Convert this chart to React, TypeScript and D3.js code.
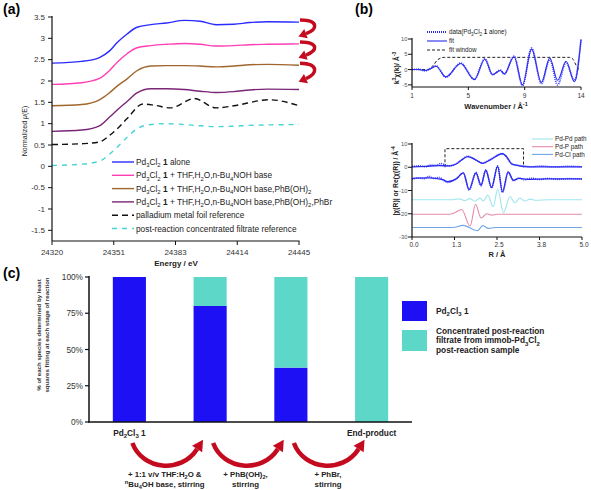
import React from "react";
import * as d3 from "d3";

const FONT = "Arial, 'Liberation Sans', Helvetica, sans-serif";

// ---------------- Panel (a) data ----------------
const A_X_TICKS = [24320, 24351.25, 24382.5, 24413.75, 24445];
const A_X_TICK_LABELS = ["24320", "24351", "24383", "24414", "24445"];
const A_Y_TICKS = [3.5, 3, 2.5, 2, 1.5, 1, 0.5, 0, -0.5, -1, -1.5];
const A_Y_TICK_LABELS = ["3.5", "3", "2.5", "2", "1.5", "1", "0.5", "0", "-0.5", "-1", "-1.5"];

const E_GRID = [24320, 24335, 24344, 24349, 24353, 24358, 24363, 24370, 24378, 24387, 24395, 24403, 24412, 24420, 24429, 24445];
const MU_ALONE = [2.42, 2.46, 2.55, 2.70, 2.90, 3.10, 3.26, 3.32, 3.36, 3.42, 3.40, 3.32, 3.33, 3.37, 3.39, 3.38];
const MU_BASE = [1.92, 1.96, 2.06, 2.24, 2.44, 2.64, 2.78, 2.83, 2.86, 2.88, 2.86, 2.82, 2.83, 2.85, 2.86, 2.87];
const MU_BORONIC = [1.42, 1.45, 1.56, 1.72, 1.88, 2.05, 2.24, 2.35, 2.36, 2.36, 2.35, 2.33, 2.35, 2.38, 2.39, 2.37];
const MU_PHBR = [0.82, 0.85, 0.95, 1.15, 1.32, 1.52, 1.72, 1.82, 1.82, 1.80, 1.76, 1.73, 1.75, 1.79, 1.81, 1.80];
const E_FOIL = [24320, 24335, 24344, 24349, 24353, 24358, 24366, 24372, 24380, 24392, 24403, 24412, 24430, 24445];
const MU_FOIL = [0.51, 0.53, 0.57, 0.72, 0.88, 1.12, 1.46, 1.43, 1.37, 1.59, 1.37, 1.42, 1.56, 1.42];
const MU_FILTRATE = [0.02, 0.05, 0.12, 0.28, 0.45, 0.68, 0.88, 0.98, 1.0, 0.98, 0.95, 0.93, 0.94, 0.96, 0.97, 0.98];

const A_LABELS = [
  "Pd_{3}Cl_{2} *{1} alone",
  "Pd_{3}Cl_{2} *{1} + THF,H_{2}O,n-Bu_{4}NOH base",
  "Pd_{3}Cl_{2} *{1} + THF,H_{2}O,n-Bu_{4}NOH base,PhB(OH)_{2}",
  "Pd_{3}Cl_{2} *{1} + THF,H_{2}O,n-Bu_{4}NOH base,PhB(OH)_{2},PhBr",
  "palladium metal foil reference",
  "post-reaction concentrated filtrate reference",
];
const A_COLORS = ["#2b2bff", "#ff3fb4", "#a0662c", "#7a2575", "#111111", "#45d3d3"];
const A_DASH = [null, null, null, null, "6,4", "5,5"];

// ---------------- Panel (b) data ----------------
const K_TICKS = [1, 1 + 13 / 3, 1 + 26 / 3, 14];
const K_TICK_LABELS = ["1", "5", "9", "14"];
const K_Y_TICKS = [10, 5, 0, -5];
const K_FIT = [1, 1.5, 2.0, 2.3, 2.85, 3.6, 4.75, 5.8, 6.6, 7.2, 7.8, 8.1, 8.85, 9.5, 10.2, 10.95, 11.6, 12.2, 12.85, 13.5, 14];
const CHI_FIT = [0, 0, -0.3, 0, 1.1, -2.4, 2.0, -3.3, 3.4, -1.6, -0.3, -1.4, 4.2, -5.0, 6.7, -4.2, 3.8, -3.5, 2.7, -4.0, 9.7];
const CHI_DATA = [0, 0.1, -0.4, 0.1, 1.2, -2.5, 2.1, -3.2, 3.5, -1.7, -0.2, -1.5, 4.4, -5.2, 7.0, -4.6, 3.3, -5.0, 2.3, -3.6, 9.8];
const K_WIN = [1, 2.2, 2.6, 3.0, 3.5, 13.1, 13.4, 13.65, 13.9, 14];
const WIN_K = [0, 0, 1.2, 3.3, 4, 4, 3.3, 1.2, 0, 0];
const B_TOP_LABELS = ["data(Pd_{3}Cl_{2} *{1} alone)", "fit", "fit window"];

const R_TICKS = [0, 1.25, 2.5, 3.75, 5];
const R_TICK_LABELS = ["0.0", "1.3", "2.5", "3.8", "5.0"];
const R_Y_TICKS = [10, 0, -10, -20, -30];
const R_MAG_FIT = [0, 0.4, 0.8, 1.1, 1.3, 1.45, 1.64, 1.85, 2.07, 2.3, 2.66, 2.8, 2.93, 3.1, 3.28, 3.6, 4.2, 5.0];
const MAG_FIT = [0.2, 0.4, 0.7, 0.6, 1.4, 3.0, 4.6, 3.4, 1.7, 3.2, 5.8, 4.2, 1.4, 0.8, 0.3, 0.2, 0.2, 0.2];
const R_MAG_DATA = [0, 0.2, 0.4, 0.55, 0.7, 0.85, 1.0, 1.1, 1.3, 1.45, 1.64, 1.85, 2.07, 2.3, 2.66, 2.8, 2.93, 3.1, 3.28, 3.5, 3.8, 4.2, 4.6, 5.0];
const MAG_DATA = [0.3, 0.6, 0.2, 1.0, 0.8, 1.6, 0.9, 0.6, 1.5, 3.1, 4.7, 3.3, 1.8, 3.3, 5.9, 4.1, 1.5, 0.9, 0.6, 0.2, 0.5, 0.1, 0.4, 0.2];
const R_RE_FIT = [0, 0.5, 0.9, 1.05, 1.3, 1.51, 1.68, 1.88, 2.03, 2.17, 2.34, 2.52, 2.66, 2.83, 2.98, 3.15, 3.4, 4.0, 5.0];
const RE_FIT = [-4.8, -4.6, -5.3, -6.2, -5.0, -2.4, -9.6, -2.4, -7.7, -1.3, -8.7, 0.4, -10.6, -2.0, -5.6, -4.8, -5.2, -5.0, -5.0];
const R_RE_DATA = [0, 0.2, 0.35, 0.5, 0.65, 0.8, 0.95, 1.05, 1.3, 1.51, 1.68, 1.88, 2.03, 2.17, 2.34, 2.52, 2.66, 2.83, 2.98, 3.15, 3.3, 3.5, 3.75, 4.0, 4.3, 4.6, 5.0];
const RE_DATA = [-5.2, -4.6, -4.9, -3.9, -4.8, -4.4, -5.8, -6.5, -5.0, -2.5, -9.8, -2.3, -7.9, -1.2, -8.8, 0.6, -10.8, -2.1, -5.8, -4.6, -5.4, -4.7, -5.3, -4.8, -5.2, -4.9, -5.1];
const R_WIN = [0.97, 0.97, 3.28, 3.28];
const WIN_R = [0, 8, 8, 0];
const R_PDPD = [0, 1.2, 1.4, 1.55, 1.7, 1.85, 2.0, 2.1, 2.23, 2.39, 2.52, 2.69, 2.88, 3.03, 3.17, 3.32, 3.47, 3.65, 4.0, 5.0];
const PDPD = [-14, -14, -13.6, -14.4, -13.5, -14.6, -13.3, -14.5, -12.0, -17.0, -9.4, -19.5, -12.6, -15.3, -13.3, -14.6, -13.7, -14.2, -14, -14];
const R_PDP = [0, 1.1, 1.25, 1.46, 1.71, 1.87, 2.03, 2.2, 2.35, 2.5, 5.0];
const PDP = [-20.2, -20.2, -19.6, -18.2, -25.3, -15.9, -21.8, -20.0, -20.6, -20.2, -20.2];
const R_PDCL = [0, 1.2, 1.5, 1.93, 2.08, 2.25, 2.45, 5.0];
const PDCL = [-25.9, -25.9, -25.0, -27.3, -25.1, -26.3, -25.9, -25.9];
const PATH_LABELS = ["Pd-Pd path", "Pd-P path", "Pd-Cl path"];
const PATH_COLORS = ["#9fe6ee", "#e48aa8", "#6fa6e6"];

// ---------------- Panel (c) data ----------------
const STAGES = ["start", "base", "boronic", "end"];
const STAGE_LABELS = ["Pd_{2}Cl_{3} 1", "", "", "End-product"];
const PD_SHARE = [100, 80, 37.5, 0];
const FILTRATE_SHARE = [0, 20, 62.5, 100];
const C_Y_TICKS = [0, 25, 50, 75, 100];
const C_SERIES = ["Pd_{2}Cl_{3} 1", "Concentrated post-reaction|filtrate from immob-Pd_{3}Cl_{2}|post-reaction sample"];
const C_COLORS = ["#1d10f5", "#5dd8c8"];
const STEP_LABELS = [
  ["+ 1:1 v/v THF:H_{2}O &", "^{n}Bu_{4}OH base, stirring"],
  ["+ PhB(OH)_{2},", "stirring"],
  ["+ PhBr,", "stirring"],
];

// ---------------- helpers ----------------
function parseRich(s: string) {
  const out: { t: string; k: string }[] = [];
  const re = /([_^*~])\{([^}]*)\}/g;
  let last = 0;
  let m: RegExpExecArray | null;
  while ((m = re.exec(s))) {
    if (m.index > last) out.push({ t: s.slice(last, m.index), k: "n" });
    out.push({ t: m[2], k: m[1] });
    last = re.lastIndex;
  }
  if (last < s.length) out.push({ t: s.slice(last), k: "n" });
  return out;
}

function Rich(props: any) {
  const { x, y, text, size, anchor = "start", weight = "normal", fill = "#222", transform } = props;
  const parts = parseRich(text);
  let shift = 0;
  const kids = parts.map((p, i) => {
    let target = 0;
    let fs = size;
    let fw: any = undefined;
    let fst: any = undefined;
    if (p.k === "_") { target = size * 0.3; fs = size * 0.72; }
    if (p.k === "^") { target = -size * 0.38; fs = size * 0.72; }
    if (p.k === "*") fw = "bold";
    if (p.k === "~") fst = "italic";
    const dy = target - shift;
    shift = target;
    return (
      <tspan key={i} dy={dy !== 0 ? dy : undefined} fontSize={fs} fontWeight={fw} fontStyle={fst}>
        {p.t}
      </tspan>
    );
  });
  return (
    <text x={x} y={y} fontSize={size} textAnchor={anchor} fontWeight={weight} fill={fill} fontFamily={FONT} transform={transform}>
      {kids}
    </text>
  );
}

function arrowPath(p0: number[], c1: number[], c2: number[], p2: number[], head: number, width: number, color: string, sw: number, key: string) {
  const dx = p2[0] - c2[0];
  const dy = p2[1] - c2[1];
  const L = Math.hypot(dx, dy) || 1;
  const ux = dx / L, uy = dy / L;
  const px = -uy, py = ux;
  const tip = [p2[0] + ux * head, p2[1] + uy * head];
  const b1 = [p2[0] + px * width / 2, p2[1] + py * width / 2];
  const b2 = [p2[0] - px * width / 2, p2[1] - py * width / 2];
  return (
    <g key={key}>
      <path d={`M${p0[0]},${p0[1]} C${c1[0]},${c1[1]} ${c2[0]},${c2[1]} ${p2[0]},${p2[1]}`} fill="none" stroke={color} strokeWidth={sw} />
      <polygon points={`${tip[0]},${tip[1]} ${b1[0]},${b1[1]} ${b2[0]},${b2[1]}`} fill={color} />
    </g>
  );
}

const RED = "#c40a1e";

export default function App() {
  // ---------- (a) ----------
  const ax = d3.scaleLinear().domain([24320, 24445]).range([52, 299]);
  const ay = d3.scaleLinear().domain([-1.75, 3.5]).range([241, 17]);
  const aLine = d3.line<[number, number]>().x((d) => ax(d[0])).y((d) => ay(d[1])).curve(d3.curveMonotoneX);
  const aSeries = [
    { xs: E_GRID, ys: MU_ALONE },
    { xs: E_GRID, ys: MU_BASE },
    { xs: E_GRID, ys: MU_BORONIC },
    { xs: E_GRID, ys: MU_PHBR },
    { xs: E_FOIL, ys: MU_FOIL },
    { xs: E_GRID, ys: MU_FILTRATE },
  ];
  const xe = ax(24445);
  const ends = [MU_ALONE, MU_BASE, MU_BORONIC, MU_PHBR].map((a) => ay(a[a.length - 1]));

  // ---------- (b) top ----------
  const kx = d3.scaleLinear().domain([1, 14]).range([412, 581]);
  const ky = d3.scaleLinear().domain([-5.7, 10]).range([87, 39]);
  const kLine = d3.line<[number, number]>().x((d) => kx(d[0])).y((d) => ky(d[1])).curve(d3.curveMonotoneX);
  const zip = (a: number[], b: number[]) => a.map((v, i) => [v, b[i]] as [number, number]);

  // ---------- (b) bottom ----------
  const rx = d3.scaleLinear().domain([0, 5]).range([412, 582]);
  const ry = d3.scaleLinear().domain([-30, 10]).range([237, 144]);
  const rLine = d3.line<[number, number]>().x((d) => rx(d[0])).y((d) => ry(d[1])).curve(d3.curveMonotoneX);
  const rLin = d3.line<[number, number]>().x((d) => rx(d[0])).y((d) => ry(d[1]));

  // ---------- (c) ----------
  const cx = d3.scaleBand<string>().domain(STAGES).range([89, 412]).paddingInner(0.59).paddingOuter(0.295);
  const cy = d3.scaleLinear().domain([0, 100]).range([422, 277]);
  const stackData = STAGES.map((s, i) => ({ stage: s, pd: PD_SHARE[i], fil: FILTRATE_SHARE[i] }));
  const stacked = d3.stack<any>().keys(["pd", "fil"])(stackData);
  const centers = STAGES.map((s) => (cx(s) as number) + cx.bandwidth() / 2);

  const axisColor = "#111";
  const tickColor = "#333";

  return (
    <div style={{ position: "absolute", left: 0, top: 0 }}>
      <svg width={591} height={490} viewBox="0 0 591 490" style={{ display: "block", background: "#fff" }}>
        <rect width={591} height={490} fill="#fff" />
        {/* panel labels */}
        <text x={3} y={14} fontSize={14} fontWeight="bold" fontFamily={FONT}>(a)</text>
        <text x={355} y={14} fontSize={14} fontWeight="bold" fontFamily={FONT}>(b)</text>
        <text x={3} y={278} fontSize={14} fontWeight="bold" fontFamily={FONT}>(c)</text>

        {/* ===== (a) ===== */}
        <g>
          {aSeries.map((s, i) => (
            <path key={i} d={aLine(zip(s.xs, s.ys)) || ""} fill="none" stroke={A_COLORS[i]} strokeWidth={1.4} strokeDasharray={A_DASH[i] || undefined} />
          ))}
          <line x1={52} x2={52} y1={16} y2={241} stroke={axisColor} strokeWidth={1.2} />
          <line x1={52} x2={299.5} y1={241} y2={241} stroke={axisColor} strokeWidth={1.2} />
          {A_Y_TICKS.map((t, i) => (
            <g key={i}>
              <line x1={48} x2={52} y1={ay(t)} y2={ay(t)} stroke={axisColor} strokeWidth={1} />
              <text x={45} y={ay(t) + 2.8} fontSize={8} textAnchor="end" fill={tickColor} fontFamily={FONT}>{A_Y_TICK_LABELS[i]}</text>
            </g>
          ))}
          {A_X_TICKS.map((t, i) => (
            <g key={i}>
              <line x1={ax(t)} x2={ax(t)} y1={241} y2={245} stroke={axisColor} strokeWidth={1} />
              <text x={ax(t)} y={255} fontSize={8} textAnchor="middle" fill={tickColor} fontFamily={FONT}>{A_X_TICK_LABELS[i]}</text>
            </g>
          ))}
          <text x={176} y={266} fontSize={8} fontWeight="bold" textAnchor="middle" fill="#222" fontFamily={FONT}>Energy / eV</text>
          <Rich x={0} y={0} text="Normalized ~{μ}(E)" size={7} anchor="middle" transform="translate(27,131) rotate(-90)" />
          {/* legend */}
          {A_LABELS.map((lab, i) => {
            const yy = 162 + i * 13.3;
            return (
              <g key={i}>
                <line x1={112} x2={134} y1={yy} y2={yy} stroke={A_COLORS[i]} strokeWidth={1.4} strokeDasharray={A_DASH[i] || undefined} />
                <Rich x={136} y={yy + 3} text={lab} size={8.3} fill="#222" />
              </g>
            );
          })}
          {/* red arrows */}
          {[0, 1, 2].map((i) => {
            const top = ends[i] - 2;
            const bot = ends[i + 1] - 5;
            const h = bot - top;
            return arrowPath([xe + 1, top], [xe + 21, top + 0.02 * h], [xe + 18, top + 0.5 * h], [xe + 7, top + 0.72 * h], 8, 10, RED, 3.5, "aa" + i);
          })}
        </g>

        {/* ===== (b) top ===== */}
        <g>
          <path d={kLine(zip(K_WIN, WIN_K)) || ""} fill="none" stroke="#222" strokeWidth={1} strokeDasharray="3,2" />
          <path d={kLine(zip(K_FIT, CHI_DATA)) || ""} fill="none" stroke="#3a3aff" strokeWidth={1.8} strokeDasharray="1,1" />
          <path d={kLine(zip(K_FIT, CHI_FIT)) || ""} fill="none" stroke="#2b2bf0" strokeWidth={1.1} />
          <line x1={412} x2={412} y1={38} y2={87} stroke={axisColor} strokeWidth={1.2} />
          <line x1={412} x2={581} y1={87} y2={87} stroke={axisColor} strokeWidth={1.2} />
          {K_Y_TICKS.map((t, i) => (
            <g key={i}>
              <line x1={408} x2={412} y1={ky(t)} y2={ky(t)} stroke={axisColor} />
              <text x={407.5} y={ky(t) + 2.2} fontSize={5.8} textAnchor="end" fill="#555" fontFamily={FONT}>{t}</text>
            </g>
          ))}
          {K_TICKS.map((t, i) => (
            <g key={i}>
              <line x1={kx(t)} x2={kx(t)} y1={87} y2={90} stroke={axisColor} />
              <text x={kx(t)} y={98} fontSize={6.5} textAnchor="middle" fill={tickColor} fontFamily={FONT}>{K_TICK_LABELS[i]}</text>
            </g>
          ))}
          <Rich x={496} y={109} text="Wavenumber / Å^{-1}" size={7.5} weight="bold" anchor="middle" />
          <Rich x={0} y={0} text="k^{3}χ(k)/ Å^{-3}" size={7} weight="bold" anchor="middle" transform="translate(399,68) rotate(-90)" />
          {/* legend */}
          {B_TOP_LABELS.map((lab, i) => {
            const yy = 32 + i * 9;
            return (
              <g key={i}>
                <line x1={427} x2={447} y1={yy} y2={yy} stroke={i === 2 ? "#222" : "#2b2bf0"} strokeWidth={i === 0 ? 1.8 : 1.1} strokeDasharray={i === 0 ? "1,1" : i === 2 ? "3,2" : undefined} />
                <Rich x={449} y={yy + 2.3} text={lab} size={6.3} fill="#222" />
              </g>
            );
          })}
        </g>

        {/* ===== (b) bottom ===== */}
        <g>
          <path d={rLin(zip(R_WIN, WIN_R)) || ""} fill="none" stroke="#222" strokeWidth={1} strokeDasharray="3,2" />
          <path d={rLine(zip(R_PDPD, PDPD)) || ""} fill="none" stroke={PATH_COLORS[0]} strokeWidth={1.1} />
          <path d={rLine(zip(R_PDP, PDP)) || ""} fill="none" stroke={PATH_COLORS[1]} strokeWidth={1.1} />
          <path d={rLine(zip(R_PDCL, PDCL)) || ""} fill="none" stroke={PATH_COLORS[2]} strokeWidth={1.1} />
          <path d={rLine(zip(R_MAG_DATA, MAG_DATA)) || ""} fill="none" stroke="#3a3aff" strokeWidth={1.6} strokeDasharray="1,1" />
          <path d={rLine(zip(R_MAG_FIT, MAG_FIT)) || ""} fill="none" stroke="#2b2bf0" strokeWidth={1.3} />
          <path d={rLine(zip(R_RE_DATA, RE_DATA)) || ""} fill="none" stroke="#3a3aff" strokeWidth={1.6} strokeDasharray="1,1" />
          <path d={rLine(zip(R_RE_FIT, RE_FIT)) || ""} fill="none" stroke="#2b2bf0" strokeWidth={1.3} />
          <line x1={412} x2={412} y1={143} y2={237} stroke={axisColor} strokeWidth={1.2} />
          <line x1={412} x2={582} y1={237} y2={237} stroke={axisColor} strokeWidth={1.2} />
          {R_Y_TICKS.map((t, i) => (
            <g key={i}>
              <line x1={408} x2={412} y1={ry(t)} y2={ry(t)} stroke={axisColor} />
              <text x={407.5} y={ry(t) + 2.2} fontSize={5.8} textAnchor="end" fill="#555" fontFamily={FONT}>{t}</text>
            </g>
          ))}
          {R_TICKS.map((t, i) => (
            <g key={i}>
              <line x1={rx(t)} x2={rx(t)} y1={237} y2={240} stroke={axisColor} />
              <text x={rx(t) + 2} y={247} fontSize={6.5} textAnchor="middle" fill={tickColor} fontFamily={FONT}>{R_TICK_LABELS[i]}</text>
            </g>
          ))}
          <Rich x={497} y={257} text="R / Å" size={7.5} weight="bold" anchor="middle" />
          <Rich x={0} y={0} text="|χ(R)| or Re(χ(R)) / Å^{-4}" size={6.8} weight="bold" anchor="middle" transform="translate(398,181) rotate(-90)" />
          {PATH_LABELS.map((lab, i) => {
            const yy = 139 + i * 7.7;
            return (
              <g key={i}>
                <line x1={532} x2={553} y1={yy} y2={yy} stroke={PATH_COLORS[i]} strokeWidth={1.1} />
                <text x={555} y={yy + 2.2} fontSize={6.3} fill="#222" fontFamily={FONT}>{lab}</text>
              </g>
            );
          })}
        </g>

        {/* ===== (c) ===== */}
        <g>
          {stacked.map((layer, li) => (
            <g key={li}>
              {layer.map((d: any, j: number) =>
                d[1] - d[0] > 0 ? (
                  <rect key={j} x={cx(STAGES[j])} width={cx.bandwidth()} y={cy(d[1])} height={cy(d[0]) - cy(d[1])} fill={C_COLORS[li]} />
                ) : null
              )}
            </g>
          ))}
          <line x1={89} x2={89} y1={276} y2={422} stroke={axisColor} strokeWidth={1.5} />
          <line x1={88} x2={412} y1={422} y2={422} stroke={axisColor} strokeWidth={1.5} />
          {C_Y_TICKS.map((t, i) => (
            <g key={i}>
              <line x1={85} x2={89} y1={cy(t)} y2={cy(t)} stroke={axisColor} strokeWidth={1.2} />
              <text x={83} y={cy(t) + 3} fontSize={8.3} textAnchor="end" fill={tickColor} fontFamily={FONT}>{t}%</text>
            </g>
          ))}
          {STAGE_LABELS.map((lab, i) =>
            lab ? <Rich key={i} x={centers[i]} y={436} text={lab} size={8.3} weight="bold" anchor="middle" fill="#222" /> : null
          )}
          <g transform="translate(44,335) rotate(-90)">
            <text x={0} y={-3} fontSize={6.1} fontWeight="bold" textAnchor="middle" fill="#333" fontFamily={FONT}>% of each species determined by least</text>
            <text x={0} y={5} fontSize={6.1} fontWeight="bold" textAnchor="middle" fill="#333" fontFamily={FONT}>squares fitting at each stage of reaction</text>
          </g>
          {/* legend */}
          <rect x={402} y={301} width={25} height={20} fill={C_COLORS[0]} />
          <Rich x={436} y={314} text={C_SERIES[0]} size={8.3} weight="bold" fill="#222" />
          <rect x={402} y={330} width={25} height={21} fill={C_COLORS[1]} />
          {C_SERIES[1].split("|").map((ln, i) => (
            <Rich key={i} x={436} y={333.5 + i * 9.6} text={ln} size={8.3} weight="bold" fill="#222" />
          ))}
          {/* step arrows */}
          {[0, 1, 2].map((i) => {
            const a = centers[i] + 3;
            const b = centers[i + 1] - 13;
            return arrowPath([a, 443], [a + 10, 470], [b - 16, 474], [b, 449], 11, 12, RED, 4.5, "ca" + i);
          })}
          {STEP_LABELS.map((lines, i) => {
            const mx = i === 2 ? 328 : (centers[i] + centers[i + 1]) / 2 - 5;
            return lines.map((ln, j) => (
              <Rich key={i + "-" + j} x={mx} y={477 + j * 10} text={ln} size={7.8} weight="bold" anchor="middle" fill="#222" />
            ));
          })}
        </g>
      </svg>
    </div>
  );
}
